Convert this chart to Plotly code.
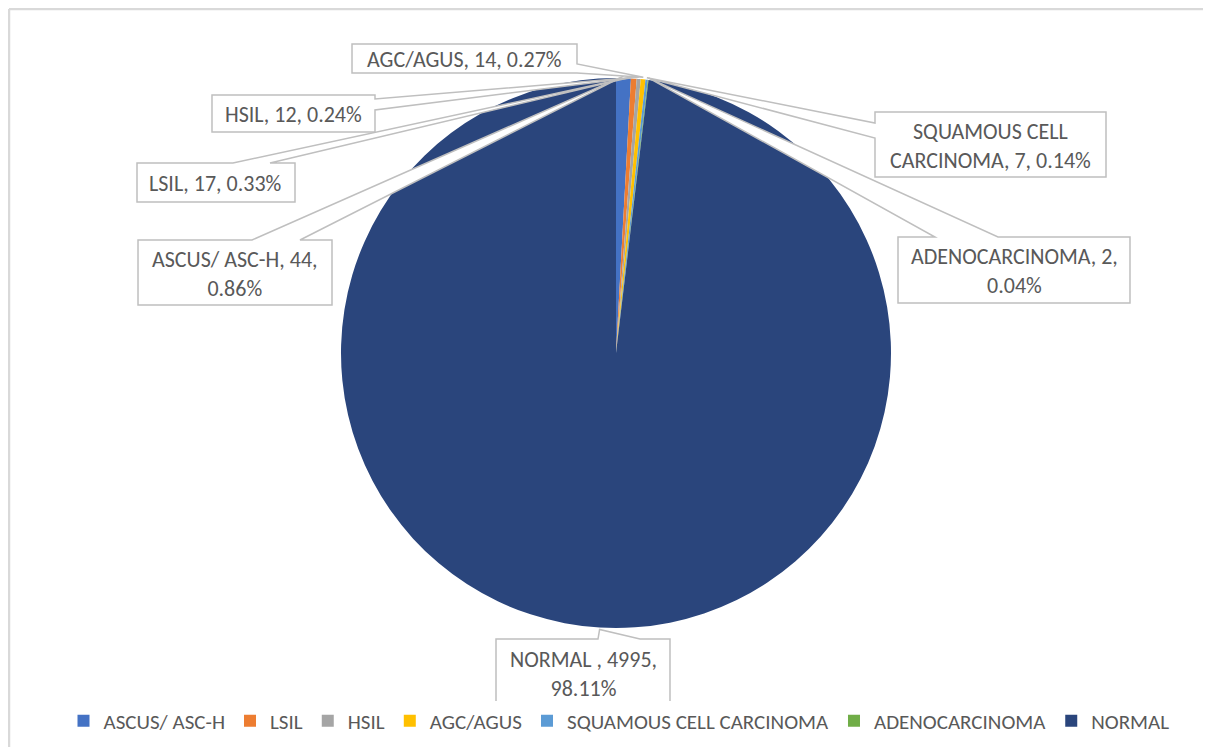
import math
import plotly.graph_objects as go

# ---- data ----
categories = ["ASCUS/ ASC-H", "LSIL", "HSIL", "AGC/AGUS",
              "SQUAMOUS CELL CARCINOMA", "ADENOCARCINOMA", "NORMAL"]
counts = [44, 17, 12, 14, 7, 2, 4995]
colors = ["#4472C4", "#ED7D31", "#A5A5A5", "#FFC000", "#5B9BD5", "#70AD47", "#2A457C"]
# label text templates (line breaks as in the reference)
label_templates = [
    "ASCUS/ ASC-H, {v},<br>{p}",
    "LSIL, {v}, {p}",
    "HSIL, {v}, {p}",
    "AGC/AGUS, {v}, {p}",
    "SQUAMOUS CELL<br>CARCINOMA, {v}, {p}",
    "ADENOCARCINOMA, {v},<br>{p}",
    "NORMAL , {v},<br>{p}",
]

# ---- layout geometry (pixels, in page coordinates) ----
OX, OY = 8, 8            # page offset of the figure (body margin)
W, H = 1195, 739         # figure size
CX, CY, R = 616, 353, 275
FONT = "Carlito, Calibri, Lato, sans-serif"
TXT = "#595959"
BORDER = "#BFBFBF"

# callout boxes: (x0, y0, x1, y1), pointer side, base (a, b)
boxes = [
    ((138, 240, 332, 305), "top", (252, 300)),
    ((137, 163, 295, 202), "top", (233, 270)),
    ((212, 95, 375, 132), "right", (99, 110)),
    ((352, 44, 577, 73), "right", (64, 73)),
    ((875, 112, 1106, 177), "left", (123, 138)),
    ((898, 237, 1130, 303), "top", (935, 998)),
    ((496, 639, 670, 706), "top", (598, 640)),
]


def px(x):
    return (x - OX) / W


def py(y):
    return 1 - (y - OY) / H


total = sum(counts)
fig = go.Figure()
fig.add_trace(go.Pie(
    labels=categories, values=counts, sort=False, direction="clockwise",
    rotation=0, marker=dict(colors=colors, line=dict(width=0)),
    textinfo="none", hoverinfo="label+value+percent",
    domain=dict(x=[px(CX - R), px(CX + R)], y=[py(CY + R), py(CY - R)]),
))

shapes = []
annotations = []
cum = 0
for i, v in enumerate(counts):
    mid = (cum + v / 2) / total * 2 * math.pi
    cum += v
    ax = CX + (R + 2) * math.sin(mid)
    ay = CY - (R + 2) * math.cos(mid)
    (x0, y0, x1, y1), side, (b1, b2) = boxes[i]
    if side == "top":
        pts = [(x0, y0), (b1, y0), (ax, ay), (b2, y0), (x1, y0), (x1, y1), (x0, y1)]
    elif side == "right":
        pts = [(x0, y0), (x1, y0), (x1, b1), (ax, ay), (x1, b2), (x1, y1), (x0, y1)]
    else:  # left
        pts = [(x0, y0), (x1, y0), (x1, y1), (x0, y1), (x0, b2), (ax, ay), (x0, b1)]
    path = "M " + " L ".join(f"{px(a):.5f},{py(b):.5f}" for a, b in pts) + " Z"
    shapes.append(dict(type="path", path=path, xref="paper", yref="paper",
                       fillcolor="white", line=dict(color=BORDER, width=1.5),
                       layer="above"))
    pct = f"{v / total * 100:.2f}%"
    annotations.append(dict(
        text=label_templates[i].format(v=v, p=pct),
        x=px((x0 + x1) / 2), y=py((y0 + y1) / 2 + 1), xref="paper", yref="paper",
        xanchor="center", yanchor="middle", showarrow=False,
        font=dict(family=FONT, size=22, color=TXT), align="center",
    ))

# chart-area frame (only top and left edges are visible in the reference)
for (a0, b0, a1, b1_) in [(9, 9, OX + W, 9), (9, 9, 9, OY + H)]:
    shapes.append(dict(type="line", xref="paper", yref="paper",
                       x0=px(a0), y0=py(b0), x1=px(a1), y1=py(b1_),
                       line=dict(color="#D9D9D9", width=2.5), layer="below"))

fig.update_layout(
    width=W, height=H, margin=dict(l=0, r=0, t=0, b=0),
    paper_bgcolor="white", plot_bgcolor="white",
    shapes=shapes, annotations=annotations,
    showlegend=True,
    legend=dict(orientation="h", x=px(619), xanchor="center",
                y=py(721), yanchor="middle",
                font=dict(family=FONT, size=21, color=TXT),
                itemwidth=30, traceorder="normal"),
)

fig.write_html("out.html")
